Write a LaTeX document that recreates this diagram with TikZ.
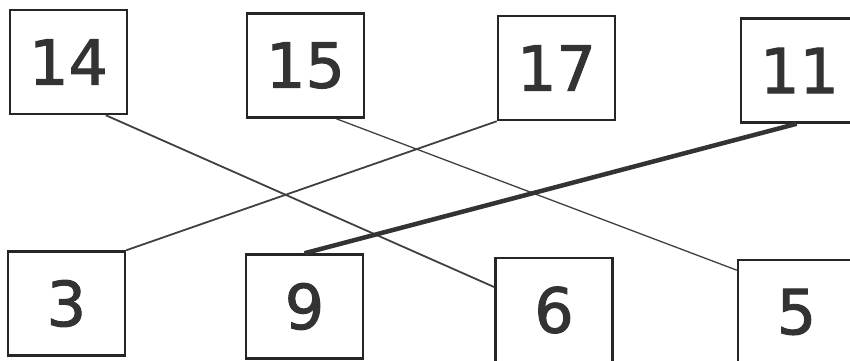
\documentclass[tikz,border=0pt]{standalone}
\usepackage{fontspec}
\setmainfont{DejaVu Sans}
\newfontfamily\digitfont{DejaVu Sans}[FakeBold=1.6]
\usetikzlibrary{positioning}
\tikzset{num/.style={draw=black!85,line width=2.5pt,minimum width=117pt,minimum height=104pt,inner sep=0pt,
  text=black!80,font=\fontsize{62}{62}\digitfont},
 wire/.style={draw=black!75,line width=1.8pt},
 bold/.style={draw=black!80,line width=4.5pt}}
\begin{document}
\begin{tikzpicture}[x=1pt,y=-1pt]
\useasboundingbox (0,0) rectangle (850,360);
\clip (0,0) rectangle (850,360);
% top row
\node[num](n14) at (68.5,62){14};
\node[num](n15) at (305.5,65.5){15};
\node[num](n17) at (556.5,68){17};
\node[num](n11) at (799.5,70.5){11};
% bottom row
\node[num](n3) at (66.5,303.5){3};
\node[num](n9) at (304.5,306.5){9};
\node[num](n6) at (554,310){6};
\node[num](n5) at (796.5,312){5};
% matches
\draw[wire](n14.-55)--(n6.159);
\draw[wire,line width=1.3pt](n15.-60)--(n5.145);
\draw[wire](n17.south west)--(n3.north east);
\draw[bold](n11.-93)--(n9.north);
\end{tikzpicture}
\end{document}
